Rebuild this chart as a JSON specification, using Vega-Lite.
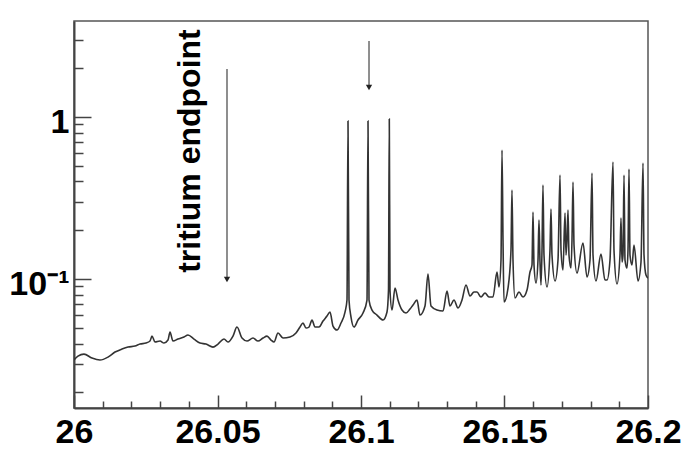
{
  "$schema": "https://vega.github.io/schema/vega-lite/v6.json",
  "width": 574,
  "height": 387,
  "autosize": "none",
  "padding": {"left": 74, "top": 21, "right": 44, "bottom": 51},
  "background": "white",
  "config": {
    "view": {"stroke": "#555", "strokeWidth": 1.5},
    "font": "Liberation Sans"
  },
  "datasets": {
    "spec": [
      {"x": 26.0, "y": 0.03162}, {"x": 26.00139, "y": 0.03347}, {"x": 26.00348, "y": 0.03443}, {"x": 26.00627, "y": 0.03252},
      {"x": 26.00906, "y": 0.03162}, {"x": 26.01185, "y": 0.03299}, {"x": 26.01429, "y": 0.03543}, {"x": 26.01672, "y": 0.03697},
      {"x": 26.01882, "y": 0.03803}, {"x": 26.02125, "y": 0.03857}, {"x": 26.023, "y": 0.0397}, {"x": 26.02509, "y": 0.04027},
      {"x": 26.02648, "y": 0.04143}, {"x": 26.02718, "y": 0.04446}, {"x": 26.02822, "y": 0.04085}, {"x": 26.02997, "y": 0.04143},
      {"x": 26.03136, "y": 0.04027}, {"x": 26.03275, "y": 0.04202}, {"x": 26.03345, "y": 0.04708}, {"x": 26.03449, "y": 0.04143},
      {"x": 26.03624, "y": 0.04262}, {"x": 26.03833, "y": 0.04385}, {"x": 26.03972, "y": 0.04511}, {"x": 26.04181, "y": 0.04262},
      {"x": 26.0439, "y": 0.04027}, {"x": 26.04599, "y": 0.0397}, {"x": 26.04843, "y": 0.03803}, {"x": 26.05017, "y": 0.0397},
      {"x": 26.05226, "y": 0.04262}, {"x": 26.05366, "y": 0.04085}, {"x": 26.0554, "y": 0.04446}, {"x": 26.05679, "y": 0.05055},
      {"x": 26.05854, "y": 0.04323}, {"x": 26.06028, "y": 0.04143}, {"x": 26.06237, "y": 0.04323}, {"x": 26.06411, "y": 0.04143},
      {"x": 26.06585, "y": 0.04323}, {"x": 26.06725, "y": 0.04446}, {"x": 26.06864, "y": 0.04202}, {"x": 26.06969, "y": 0.04085},
      {"x": 26.07108, "y": 0.04642}, {"x": 26.07282, "y": 0.04323}, {"x": 26.07526, "y": 0.04385}, {"x": 26.07735, "y": 0.04642},
      {"x": 26.07875, "y": 0.05055}, {"x": 26.07979, "y": 0.05351}, {"x": 26.08084, "y": 0.04984}, {"x": 26.08188, "y": 0.05055},
      {"x": 26.08293, "y": 0.05584}, {"x": 26.08397, "y": 0.05055}, {"x": 26.08537, "y": 0.05055}, {"x": 26.08676, "y": 0.05505},
      {"x": 26.08815, "y": 0.05909}, {"x": 26.0892, "y": 0.06255}, {"x": 26.09024, "y": 0.05128}, {"x": 26.09164, "y": 0.04844},
      {"x": 26.09303, "y": 0.05351}, {"x": 26.09443, "y": 0.06255}, {"x": 26.09512, "y": 0.07421}, {"x": 26.09547, "y": 0.9447},
      {"x": 26.09582, "y": 0.07421}, {"x": 26.09652, "y": 0.05827}, {"x": 26.09756, "y": 0.05055}, {"x": 26.09895, "y": 0.05584},
      {"x": 26.1007, "y": 0.06166}, {"x": 26.10209, "y": 0.07421}, {"x": 26.10244, "y": 0.9447}, {"x": 26.10279, "y": 0.07421},
      {"x": 26.10383, "y": 0.06436}, {"x": 26.10557, "y": 0.05994}, {"x": 26.10767, "y": 0.05584}, {"x": 26.10906, "y": 0.06255},
      {"x": 26.10958, "y": 0.08551}, {"x": 26.10986, "y": 0.972}, {"x": 26.1101, "y": 0.08551}, {"x": 26.1108, "y": 0.06436},
      {"x": 26.11185, "y": 0.08798}, {"x": 26.11289, "y": 0.07421}, {"x": 26.11429, "y": 0.06436}, {"x": 26.11568, "y": 0.06166},
      {"x": 26.11707, "y": 0.06531}, {"x": 26.11812, "y": 0.06912}, {"x": 26.11951, "y": 0.07421}, {"x": 26.12056, "y": 0.05994},
      {"x": 26.1223, "y": 0.06813}, {"x": 26.12334, "y": 0.1074}, {"x": 26.12439, "y": 0.06813}, {"x": 26.12648, "y": 0.06436},
      {"x": 26.12857, "y": 0.06344}, {"x": 26.12997, "y": 0.08431}, {"x": 26.13101, "y": 0.06813}, {"x": 26.1324, "y": 0.07421},
      {"x": 26.1338, "y": 0.06622}, {"x": 26.13519, "y": 0.07421}, {"x": 26.13659, "y": 0.09183}, {"x": 26.13798, "y": 0.07854},
      {"x": 26.13937, "y": 0.08314}, {"x": 26.14042, "y": 0.08314}, {"x": 26.14181, "y": 0.07743}, {"x": 26.14321, "y": 0.08197},
      {"x": 26.1446, "y": 0.07743}, {"x": 26.14599, "y": 0.07743}, {"x": 26.14739, "y": 0.1105}, {"x": 26.14808, "y": 0.08924},
      {"x": 26.14878, "y": 0.131}, {"x": 26.14913, "y": 0.6256}, {"x": 26.14948, "y": 0.1741}, {"x": 26.14983, "y": 0.07211},
      {"x": 26.15122, "y": 0.08798}, {"x": 26.15226, "y": 0.151}, {"x": 26.15261, "y": 0.3542}, {"x": 26.15296, "y": 0.131},
      {"x": 26.15366, "y": 0.07632}, {"x": 26.15505, "y": 0.08314}, {"x": 26.15645, "y": 0.07743}, {"x": 26.15784, "y": 0.08551},
      {"x": 26.15889, "y": 0.1105}, {"x": 26.15958, "y": 0.1221}, {"x": 26.15993, "y": 0.2593}, {"x": 26.16028, "y": 0.1221},
      {"x": 26.16098, "y": 0.09447}, {"x": 26.16167, "y": 0.131}, {"x": 26.16202, "y": 0.2313}, {"x": 26.16237, "y": 0.1273},
      {"x": 26.16272, "y": 0.09183}, {"x": 26.16307, "y": 0.151}, {"x": 26.16341, "y": 0.3803}, {"x": 26.16376, "y": 0.1406},
      {"x": 26.16481, "y": 0.08924}, {"x": 26.16585, "y": 0.151}, {"x": 26.1662, "y": 0.2704}, {"x": 26.16655, "y": 0.1406},
      {"x": 26.1676, "y": 0.0972}, {"x": 26.16864, "y": 0.131}, {"x": 26.16934, "y": 0.4385}, {"x": 26.16969, "y": 0.151},
      {"x": 26.17038, "y": 0.1137}, {"x": 26.17108, "y": 0.2556}, {"x": 26.17143, "y": 0.1406}, {"x": 26.17178, "y": 0.1741},
      {"x": 26.17213, "y": 0.2667}, {"x": 26.17247, "y": 0.1406}, {"x": 26.17317, "y": 0.1169}, {"x": 26.17352, "y": 0.1741},
      {"x": 26.17387, "y": 0.397}, {"x": 26.17422, "y": 0.1622}, {"x": 26.17526, "y": 0.1089}, {"x": 26.17735, "y": 0.1668},
      {"x": 26.17875, "y": 0.1029}, {"x": 26.17979, "y": 0.131}, {"x": 26.18049, "y": 0.4511}, {"x": 26.18084, "y": 0.1406},
      {"x": 26.18188, "y": 0.0972}, {"x": 26.18362, "y": 0.1426}, {"x": 26.18502, "y": 0.09859}, {"x": 26.18571, "y": 0.09859},
      {"x": 26.18676, "y": 0.131}, {"x": 26.1878, "y": 0.5275}, {"x": 26.18815, "y": 0.151}, {"x": 26.1892, "y": 0.09314},
      {"x": 26.19024, "y": 0.1406}, {"x": 26.19059, "y": 0.2379}, {"x": 26.19094, "y": 0.1273}, {"x": 26.19129, "y": 0.1406},
      {"x": 26.19164, "y": 0.4385}, {"x": 26.19199, "y": 0.131}, {"x": 26.19268, "y": 0.1169}, {"x": 26.19303, "y": 0.151},
      {"x": 26.19338, "y": 0.4775}, {"x": 26.19373, "y": 0.1406}, {"x": 26.19443, "y": 0.1221}, {"x": 26.19512, "y": 0.1622},
      {"x": 26.19652, "y": 0.0972}, {"x": 26.19756, "y": 0.1273}, {"x": 26.19826, "y": 0.52}, {"x": 26.19861, "y": 0.1406},
      {"x": 26.1993, "y": 0.1058}, {"x": 26.2, "y": 0.1014}
    ],
    "arrows": [
      {"x": 26.05331, "top": 1.978, "bottom": 0.1029, "head": 0.0993},
      {"x": 26.10279, "top": 2.945, "bottom": 1.576, "head": 1.521}
    ],
    "notes": [
      {"x": 26.0439, "y": 0.6167, "label": "tritium endpoint"}
    ]
  },
  "layer": [
    {
      "data": {"name": "spec"},
      "mark": {"type": "line", "color": "#333", "strokeWidth": 1.6, "interpolate": "monotone", "clip": true},
      "encoding": {
        "x": {
          "field": "x", "type": "quantitative",
          "scale": {"domain": [26, 26.2], "nice": false, "zero": false},
          "axis": {
            "orient": "bottom", "title": null, "grid": false, "tickCount": 1000,
            "values": [26, 26.01, 26.02, 26.03, 26.04, 26.05, 26.06, 26.07, 26.08, 26.09, 26.1, 26.11, 26.12, 26.13, 26.14, 26.15, 26.16, 26.17, 26.18, 26.19, 26.2],
            "labelExpr": "abs(datum.value*20 - round(datum.value*20)) < 0.01 ? format(datum.value, '~g') : ''",
            "tickSize": {"condition": {"test": "abs(datum.value*20 - round(datum.value*20)) < 0.01", "value": -13}, "value": -7},
            "tickColor": "#444", "tickWidth": 1.5,
            "labelFont": "Liberation Sans", "labelFontWeight": "bold", "labelFontSize": 34,
            "labelColor": "#000", "labelPadding": 20, "labelFlush": false, "labelOverlap": false, "labelBound": false,
            "domainColor": "#444", "domainWidth": 2
          }
        },
        "y": {
          "field": "y", "type": "quantitative",
          "scale": {"type": "log", "domain": [0.016, 3.914], "nice": false},
          "axis": {
            "orient": "left", "title": null, "grid": false, "tickCount": 1000,
            "values": [0.02, 0.03, 0.04, 0.05, 0.06, 0.07, 0.08, 0.09, 0.1, 0.2, 0.3, 0.4, 0.5, 0.6, 0.7, 0.8, 0.9, 1, 2, 3],
            "labelExpr": "abs(datum.value - 1) < 0.001 ? '1' : (abs(datum.value - 0.1) < 0.0001 ? '10⁻¹' : '')",
            "tickSize": {"condition": {"test": "abs(datum.value - 1) < 0.001 || abs(datum.value - 0.1) < 0.0001", "value": -17}, "value": -9},
            "tickColor": "#444", "tickWidth": 1.5,
            "labelFont": "Liberation Sans", "labelFontWeight": "bold", "labelFontSize": 34,
            "labelColor": "#000", "labelPadding": 22, "labelOffset": 5, "labelFlush": false, "labelOverlap": false, "labelBound": false,
            "domainColor": "#444", "domainWidth": 2
          }
        }
      }
    },
    {
      "data": {"name": "arrows"},
      "mark": {"type": "rule", "color": "#444", "strokeWidth": 1.2},
      "encoding": {
        "x": {"field": "x", "type": "quantitative"},
        "y": {"field": "top", "type": "quantitative"},
        "y2": {"field": "bottom"}
      }
    },
    {
      "data": {"name": "arrows"},
      "mark": {"type": "point", "shape": "triangle-down", "filled": true, "color": "#222", "size": 40, "opacity": 1},
      "encoding": {
        "x": {"field": "x", "type": "quantitative"},
        "y": {"field": "head", "type": "quantitative"}
      }
    },
    {
      "data": {"name": "notes"},
      "mark": {"type": "text", "angle": 270, "align": "center", "baseline": "alphabetic", "font": "Liberation Sans", "fontWeight": "bold", "fontSize": 32, "color": "#000"},
      "encoding": {
        "x": {"field": "x", "type": "quantitative"},
        "y": {"field": "y", "type": "quantitative"},
        "text": {"field": "label"}
      }
    }
  ]
}
